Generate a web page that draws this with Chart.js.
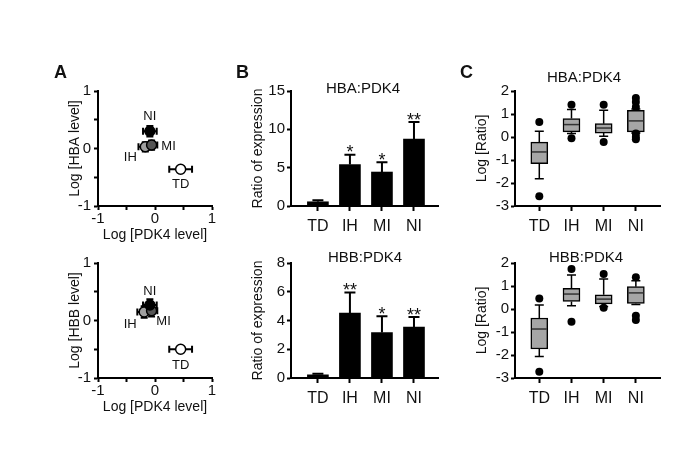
<!DOCTYPE html>
<html><head><meta charset="utf-8">
<script src="https://cdn.jsdelivr.net/npm/chart.js@4.4.1/dist/chart.umd.min.js"></script>
<style>
html,body{margin:0;padding:0;background:#fff;}
#wrap{position:relative;width:675px;height:456px;overflow:hidden;background:#fff;font-family:"Liberation Sans",Arial,sans-serif;color:#111;}
.txt{position:absolute;transform:translate(-50%,-50%);white-space:nowrap;line-height:1;}
canvas{position:absolute;}
</style></head><body><div id="wrap"></div>
<script>
// ---------- data ----------
const groups = ['TD','IH','MI','NI'];
// Panel A (log levels, mean ± error)
const hbaPdk4Log  = [0.45, -0.17, -0.06, -0.09];
const hbaPdk4Err  = [0.20, 0.12, 0.10, 0.12];
const hbaLevelLog = [-0.36, 0.03, 0.06, 0.30];
const hbaLevelErr = [0.05, 0.08, 0.08, 0.09];
const hbbPdk4Log  = [0.45, -0.19, -0.06, -0.09];
const hbbPdk4Err  = [0.20, 0.12, 0.10, 0.12];
const hbbLevelLog = [-0.50, 0.15, 0.17, 0.27];
const hbbLevelErr = [0.04, 0.10, 0.10, 0.10];
const pointColors = ['#ffffff', '#a0a0a0', '#555555', '#000000'];
// Panel B (ratio of expression, mean + error)
const hbaRatioMean = [0.55, 5.40, 4.43, 8.73];
const hbaRatioErr  = [0.20, 1.30, 1.27, 2.22];
const hbbRatioMean = [0.22, 4.52, 3.16, 3.55];
const hbbRatioErr  = [0.08, 1.42, 1.13, 0.69];
const hbaStars = ['', '*', '*', '**'];
const hbbStars = ['', '**', '*', '**'];
// Panel C (log ratio box plots)
const hbaQ1     = [-1.16, 0.22, 0.17, 0.22];
const hbaMedian = [-0.65, 0.54, 0.39, 0.70];
const hbaQ3     = [-0.22, 0.80, 0.58, 1.16];
const hbaWhLo   = [-1.81, 0.15, 0.03, 0.17];
const hbaWhHi   = [0.25, 1.20, 1.16, 1.22];
const hbaOutliers = [[0.65, -2.58], [1.40, -0.05], [1.40, -0.22], [1.70, 1.52, 1.30, 0.15, 0.00, -0.10]];
const hbbQ1     = [-1.74, 0.33, 0.22, 0.24];
const hbbMedian = [-0.87, 0.65, 0.43, 0.70];
const hbbQ3     = [-0.39, 0.90, 0.62, 0.97];
const hbbWhLo   = [-2.07, 0.14, 0.11, 0.20];
const hbbWhHi   = [0.17, 1.48, 1.30, 1.23];
const hbbOutliers = [[0.46, -2.73], [1.74, -0.55], [1.52, 0.05], [1.38, -0.29, -0.48]];

// ---------- helpers ----------
const FONT = '"Liberation Sans", Arial, Helvetica, sans-serif';
const TXT = '#111';
const wrap = document.getElementById('wrap');

function addText(str, cx, cy, size, bold) {
  const d = document.createElement('div');
  d.className = 'txt'; d.textContent = str;
  d.style.left = cx + 'px'; d.style.top = cy + 'px';
  d.style.fontSize = size + 'px';
  if (bold) d.style.fontWeight = 'bold';
  wrap.appendChild(d);
}
function makeCanvas(area, yW, xH, padT, padR) {
  const left = area.l - yW, top = area.t - padT;
  const w = yW + (area.r - area.l) + padR, h = padT + (area.b - area.t) + xH;
  const c = document.createElement('canvas');
  c.width = w; c.height = h;
  c.style.left = left + 'px'; c.style.top = top + 'px';
  c.style.width = w + 'px'; c.style.height = h + 'px';
  wrap.appendChild(c);
  return c;
}
function gridOpts(len) {
  return {drawOnChartArea: false, drawTicks: true, tickLength: len, tickWidth: 2, tickColor: '#000', offset: false};
}
const border = {display: true, color: '#000', width: 2};
const intOnly = v => (Math.abs(v - Math.round(v)) < 1e-9 ? String(Math.round(v)) : '');

function yAxis(o) {
  const ticks = {stepSize: o.step, color: TXT, font: {family: FONT, size: 15}, padding: o.tickPad, autoSkip: false};
  if (o.cb) ticks.callback = o.cb;
  return {
    type: 'linear', min: o.min, max: o.max,
    afterFit: s => { s.width = o.width; },
    border, grid: gridOpts(4), ticks,
    title: {display: true, text: o.title, color: TXT, font: {family: FONT, size: 14}, padding: {top: o.titlePad, bottom: 0}}
  };
}
function catAxis(min, max, height) {
  return {
    type: 'linear', min, max, offset: false,
    afterFit: s => { s.height = height; },
    afterBuildTicks: s => { s.ticks = groups.map((g, i) => ({value: i})); },
    border, grid: gridOpts(5),
    ticks: {color: TXT, font: {family: FONT, size: 16}, padding: 6, autoSkip: false, maxRotation: 0,
            callback: v => groups[Math.round(v)]}
  };
}
function baseOpts(scales) {
  return {
    responsive: false, animation: false, devicePixelRatio: 1,
    layout: {padding: {top: 12, right: 10, left: 0, bottom: 0}},
    plugins: {legend: {display: false}, tooltip: {enabled: false}, title: {display: false}},
    scales
  };
}

// ---------- Panel A ----------
function panelA(area, xs, xe, ys, ye, yTitle, labelOffsets) {
  const c = makeCanvas(area, 36, 40, 12, 10);
  const plugin = {
    id: 'ptErr',
    beforeDatasetsDraw(chart) {
      const {ctx, scales: {x, y}} = chart;
      ctx.save(); ctx.strokeStyle = '#000'; ctx.lineWidth = 2;
      groups.forEach((g, i) => {
        const px = x.getPixelForValue(xs[i]), py = y.getPixelForValue(ys[i]);
        const x0 = x.getPixelForValue(xs[i] - xe[i]), x1 = x.getPixelForValue(xs[i] + xe[i]);
        const y0 = y.getPixelForValue(ys[i] - ye[i]), y1 = y.getPixelForValue(ys[i] + ye[i]);
        ctx.beginPath();
        ctx.moveTo(x0, py); ctx.lineTo(x1, py);
        ctx.moveTo(x0, py - 3.5); ctx.lineTo(x0, py + 3.5);
        ctx.moveTo(x1, py - 3.5); ctx.lineTo(x1, py + 3.5);
        ctx.moveTo(px, y0); ctx.lineTo(px, y1);
        ctx.moveTo(px - 3.5, y0); ctx.lineTo(px + 3.5, y0);
        ctx.moveTo(px - 3.5, y1); ctx.lineTo(px + 3.5, y1);
        ctx.stroke();
      });
      ctx.restore();
    },
    afterDatasetsDraw(chart) {
      const {ctx, scales: {x, y}} = chart;
      ctx.save(); ctx.fillStyle = TXT; ctx.font = '13px ' + FONT;
      ctx.textAlign = 'center'; ctx.textBaseline = 'middle';
      groups.forEach((g, i) => {
        const px = x.getPixelForValue(xs[i]), py = y.getPixelForValue(ys[i]);
        ctx.fillText(g, px + labelOffsets[i][0], py + labelOffsets[i][1]);
      });
      ctx.restore();
    }
  };
  new Chart(c, {
    type: 'scatter',
    data: {datasets: [{
      data: groups.map((g, i) => ({x: xs[i], y: ys[i]})),
      backgroundColor: pointColors, borderColor: '#000', borderWidth: 1.5,
      pointRadius: 5, pointHoverRadius: 5
    }]},
    options: baseOpts({
      x: {
        type: 'linear', min: -1, max: 1,
        afterFit: s => { s.height = 40; },
        border, grid: gridOpts(4),
        ticks: {stepSize: 0.5, color: TXT, font: {family: FONT, size: 15}, padding: 0, autoSkip: false, maxRotation: 0, callback: intOnly},
        title: {display: true, text: 'Log [PDK4 level]', color: TXT, font: {family: FONT, size: 14}, padding: {top: 0, bottom: 2.6}}
      },
      y: yAxis({min: -1, max: 1, step: 0.5, width: 36, title: yTitle, titlePad: 4.6, tickPad: 3, cb: intOnly})
    }),
    plugins: [plugin]
  });
}

// ---------- Panel B ----------
function panelB(area, means, errs, stars, yMax, yStep) {
  const c = makeCanvas(area, 46, 34, 12, 10);
  const plugin = {
    id: 'barErr',
    afterDatasetsDraw(chart) {
      const {ctx, scales: {x, y}} = chart;
      ctx.save(); ctx.strokeStyle = '#000'; ctx.lineWidth = 2;
      ctx.fillStyle = TXT; ctx.font = '18px ' + FONT; ctx.textAlign = 'center'; ctx.textBaseline = 'alphabetic';
      groups.forEach((g, i) => {
        const px = x.getPixelForValue(i);
        const yb = y.getPixelForValue(means[i]), yt = y.getPixelForValue(means[i] + errs[i]);
        ctx.beginPath();
        ctx.moveTo(px, yb); ctx.lineTo(px, yt);
        ctx.moveTo(px - 5.5, yt); ctx.lineTo(px + 5.5, yt);
        ctx.stroke();
        if (stars[i]) ctx.fillText(stars[i], px, yt + 3.5);
      });
      ctx.restore();
    }
  };
  new Chart(c, {
    type: 'bar',
    data: {datasets: [{
      data: groups.map((g, i) => ({x: i, y: means[i]})),
      backgroundColor: '#000', borderWidth: 0, barThickness: 21
    }]},
    options: baseOpts({
      x: catAxis(-0.84, 3.75, 34),
      y: yAxis({min: 0, max: yMax, step: yStep, width: 46, title: 'Ratio of expression', titlePad: 4.6, tickPad: 2})
    }),
    plugins: [plugin]
  });
}

// ---------- Panel C ----------
function panelC(area, q1, med, q3, wlo, whi, outl) {
  const c = makeCanvas(area, 45, 34, 12, 10);
  const plugin = {
    id: 'boxParts',
    beforeDatasetsDraw(chart) {
      const {ctx, scales: {x, y}} = chart;
      ctx.save(); ctx.strokeStyle = '#000'; ctx.lineWidth = 1.5;
      groups.forEach((g, i) => {
        const px = x.getPixelForValue(i);
        const a = y.getPixelForValue(wlo[i]), b = y.getPixelForValue(q1[i]);
        const cc = y.getPixelForValue(q3[i]), d = y.getPixelForValue(whi[i]);
        ctx.beginPath();
        ctx.moveTo(px, a); ctx.lineTo(px, b);
        ctx.moveTo(px, cc); ctx.lineTo(px, d);
        ctx.moveTo(px - 4.5, a); ctx.lineTo(px + 4.5, a);
        ctx.moveTo(px - 4.5, d); ctx.lineTo(px + 4.5, d);
        ctx.stroke();
      });
      ctx.restore();
    },
    afterDatasetsDraw(chart) {
      const {ctx, scales: {x, y}} = chart;
      ctx.save(); ctx.strokeStyle = '#333'; ctx.lineWidth = 1.5;
      groups.forEach((g, i) => {
        const px = x.getPixelForValue(i), py = y.getPixelForValue(med[i]);
        ctx.beginPath(); ctx.moveTo(px - 7.5, py); ctx.lineTo(px + 7.5, py); ctx.stroke();
      });
      ctx.restore();
    }
  };
  new Chart(c, {
    type: 'bar',
    data: {datasets: [
      {type: 'scatter', showLine: false,
       data: outl.flatMap((arr, i) => arr.map(v => ({x: i, y: v}))),
       backgroundColor: '#000', borderWidth: 0, pointRadius: 4, pointHoverRadius: 4},
      {type: 'bar',
       data: groups.map((g, i) => ({x: i, y: [q1[i], q3[i]]})),
       backgroundColor: '#a6a6a6', borderColor: '#000', borderWidth: 1.5, borderSkipped: false, barThickness: 17}
    ]},
    options: baseOpts({
      x: catAxis(-0.755, 3.75, 34),
      y: yAxis({min: -3, max: 2, step: 1, width: 45, title: 'Log [Ratio]', titlePad: 3.3, tickPad: 2})
    }),
    plugins: [plugin]
  });
}

// ---------- layout ----------
panelA({l: 98, t: 91, r: 212, b: 206}, hbaPdk4Log, hbaPdk4Err, hbaLevelLog, hbaLevelErr, 'Log [HBA level]',
       [[0, 15], [-15, 11], [17, 1], [0, -15]]);
panelA({l: 98, t: 263, r: 212, b: 378}, hbbPdk4Log, hbbPdk4Err, hbbLevelLog, hbbLevelErr, 'Log [HBB level]',
       [[0, 16], [-14, 13], [12, 11], [0, -14]]);
panelB({l: 291, t: 91, r: 438, b: 206}, hbaRatioMean, hbaRatioErr, hbaStars, 15, 5);
panelB({l: 291, t: 263, r: 438, b: 378}, hbbRatioMean, hbbRatioErr, hbbStars, 8, 2);
panelC({l: 515, t: 91, r: 660, b: 206}, hbaQ1, hbaMedian, hbaQ3, hbaWhLo, hbaWhHi, hbaOutliers);
panelC({l: 515, t: 263, r: 660, b: 378}, hbbQ1, hbbMedian, hbbQ3, hbbWhLo, hbbWhHi, hbbOutliers);

addText('A', 60.5, 71.5, 18, true);
addText('B', 242.5, 71.5, 18, true);
addText('C', 466.5, 71.5, 18, true);
addText('HBA:PDK4', 363, 87, 15);
addText('HBB:PDK4', 365, 256, 15);
addText('HBA:PDK4', 584, 76, 15);
addText('HBB:PDK4', 586, 256, 15);
</script></body></html>
